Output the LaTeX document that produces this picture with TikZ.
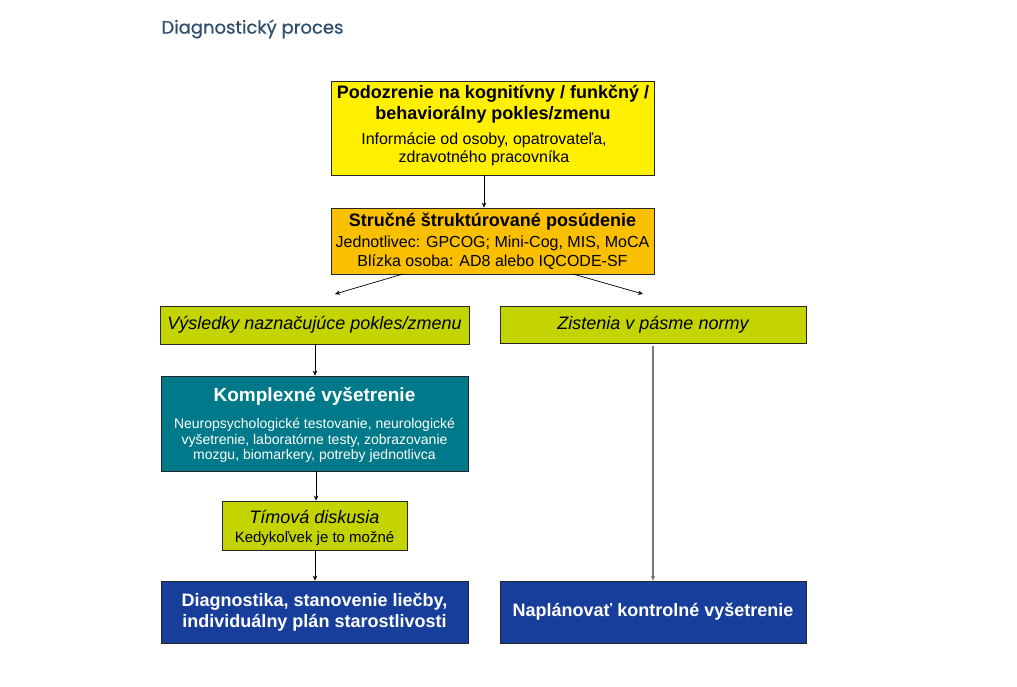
\documentclass[tikz,border=0pt]{standalone}
\usepackage{fontspec}
\setmainfont{Liberation Sans}
\newfontfamily\titlefont[FakeBold=0.6]{Poppins}
\usetikzlibrary{arrows.meta}
\definecolor{cyellow}{RGB}{255,240,0}
\definecolor{corange}{RGB}{250,192,0}
\definecolor{clime}{RGB}{196,212,0}
\definecolor{cteal}{RGB}{0,122,138}
\definecolor{cblue}{RGB}{24,62,155}
\definecolor{ctitle}{RGB}{47,78,110}
\definecolor{cgrayline}{RGB}{120,120,120}
\tikzset{
  boxbase/.style={draw=black!85, line width=0.8pt, rectangle, inner sep=0pt, align=center, anchor=center},
  ybox/.style={boxbase, fill=cyellow, text=black},
  obox/.style={boxbase, fill=corange, text=black},
  lbox/.style={boxbase, fill=clime, text=black},
  tbox/.style={boxbase, fill=cteal, text=white},
  bbox/.style={boxbase, fill=cblue, text=white},
  conn/.style={draw=black, line width=0.7pt, -{Stealth[length=5pt,width=4.5pt]}},
  grayconn/.style={draw=cgrayline, line width=1.3pt, -{Stealth[length=5pt,width=4.5pt]}, color=cgrayline}
}
\begin{document}
\begin{tikzpicture}[x=1pt,y=-1pt]
\useasboundingbox (0,0) rectangle (1017,686);
\fill[white] (0,0) rectangle (1017,686);

\node[anchor=west, text=ctitle, font=\titlefont\fontsize{18}{21}\selectfont] (title) at (158,29) {Diagnostický proces};

\node[ybox, minimum width=323, minimum height=94] (n1) at (492.5,128) {};
\node[align=center, font=\bfseries\fontsize{18}{21}\selectfont] (n1a) at (493,104.5) {Podozrenie na kognitívny / funkčný /\\behaviorálny pokles/zmenu};
\node[align=center, font=\fontsize{16}{17.5}\selectfont] (n1b) at (484,149.5) {Informácie od osoby, opatrovateľa,\\zdravotného pracovníka};

\node[obox, minimum width=323, minimum height=66] (n2) at (492.5,241) {};
\node[font=\bfseries\fontsize{18}{21}\selectfont] (n2a) at (492.5,221.5) {Stručné štruktúrované posúdenie};
\node[align=center, font=\fontsize{16}{18.5}\selectfont] (n2b) at (492.5,252.5) {Jednotlivec: GPCOG; Mini-Cog, MIS, MoCA\\Blízka osoba: AD8 alebo IQCODE-SF};

\node[lbox, minimum width=309, minimum height=38, font=\itshape\fontsize{18}{21}\selectfont] (n3) at (314.5,325) {Výsledky naznačujúce pokles/zmenu};
\node[lbox, minimum width=306, minimum height=37, font=\itshape\fontsize{18}{21}\selectfont] (n4) at (653,324.5) {Zistenia v pásme normy};

\node[tbox, minimum width=307, minimum height=95] (n5) at (314.5,423.5) {};
\node[text=white, font=\bfseries\fontsize{19}{22}\selectfont] (n5a) at (314.5,396) {Komplexné vyšetrenie};
\node[text=white, align=center, font=\fontsize{14}{15.5}\selectfont] (n5b) at (314.5,440.5) {Neuropsychologické testovanie, neurologické\\vyšetrenie, laboratórne testy, zobrazovanie\\mozgu, biomarkery, potreby jednotlivca};

\node[lbox, minimum width=185, minimum height=49] (n6) at (314.5,525.5) {};
\node[font=\itshape\fontsize{18}{21}\selectfont] (n6a) at (314.5,516.5) {Tímová diskusia};
\node[font=\fontsize{15}{17}\selectfont] (n6b) at (314.5,538.5) {Kedykoľvek je to možné};

\node[bbox, minimum width=307, minimum height=62, font=\bfseries\fontsize{18}{21}\selectfont] (n7) at (314.5,612) {Diagnostika, stanovenie liečby,\\individuálny plán starostlivosti};
\node[bbox, minimum width=306, minimum height=62, font=\bfseries\fontsize{18}{21}\selectfont] (n8) at (653,612) {Naplánovať kontrolné vyšetrenie};

\coordinate (dl) at (335,294);
\coordinate (dr) at (643,294);
\coordinate (sl) at (403,274);
\coordinate (sr) at (573,274);

\draw[conn] (n1.south -| 484,0) -- (n2.north -| 484,0);
\draw[conn] (sl) -- (dl);
\draw[conn] (sr) -- (dr);
\draw[conn] (n3.south -| 315,0) -- (n5.north -| 315,0);
\draw[conn] (n5.south -| 316,0) -- (n6.north -| 316,0);
\draw[conn] (n6.south -| 315,0) -- (n7.north -| 315,0);
\draw[grayconn, shorten <=3pt] (n4.south -| 653,0) -- (n8.north -| 653,0);
\end{tikzpicture}
\end{document}
